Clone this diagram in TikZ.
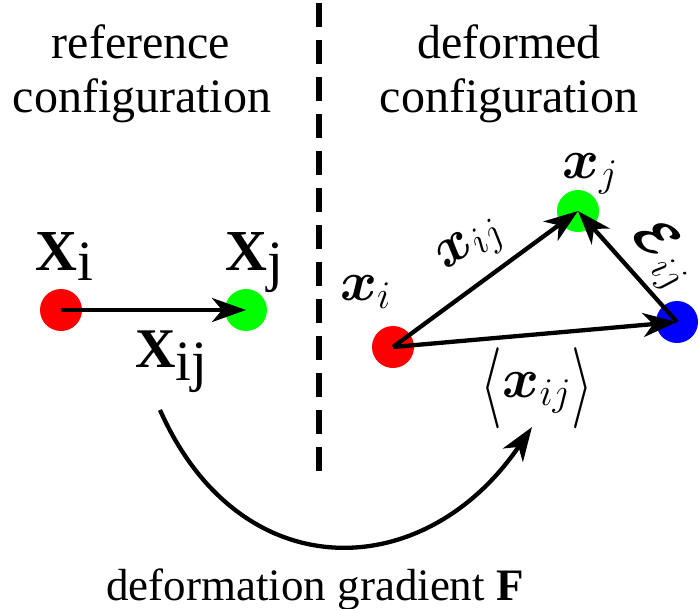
\RequirePackage{fix-cm}
\documentclass[tikz,border=0pt]{standalone}
\usepackage{amsmath,bm,graphicx}
\usepackage[no-math]{fontspec}
\setmainfont{Liberation Serif}
\usetikzlibrary{arrows.meta}
\newcommand{\lowsub}[2]{\raisebox{#1}{\fontsize{57}{57}\selectfont\mdseries #2}}
\newcommand{\tallbr}[1]{\raisebox{-11pt}{\scalebox{1}[1.45]{$#1$}}}
\begin{document}
\begin{tikzpicture}[x=1pt,y=-1pt,
  dot/.style={circle,inner sep=0pt,minimum size=42pt},
  vec/.style={line width=4.3pt,-{Stealth[length=34pt,width=24pt,inset=10pt]}},
  txt/.style={font=\fontsize{48}{56}\selectfont,inner sep=0pt,anchor=base},
  bigX/.style={font=\fontsize{58}{64}\selectfont\bfseries,inner sep=0pt,anchor=base west},
  lab/.style={font=\fontsize{56}{66}\selectfont,inner sep=0pt}]
\useasboundingbox (0,0) rectangle (699,608);
% headings
\node[txt] (ref1) at (141,58) {reference};
\node[txt] (ref2) at (142,112) {configuration};
\node[txt] (def1) at (509,58) {deformed};
\node[txt] (def2) at (509,112) {configuration};
% divider
\coordinate (dtop) at (319,3);
\coordinate (dbot) at (319,471);
\draw[line width=6.5pt,dash pattern=on 24pt off 13pt] (dtop) -- (dbot);
% reference configuration
\node[dot,fill=red] (rL) at (61,310) {};
\node[dot,fill=green] (gL) at (246,310) {};
\draw[vec] (rL.center) -- (gL.center);
\node[bigX] (Xi) at (35,270) {X\lowsub{-10pt}{i}};
\node[bigX] (Xj) at (225,270) {X\lowsub{-10pt}{j}};
\node[bigX,font=\fontsize{56}{62}\selectfont\bfseries] (Xij) at (135,367) {X\lowsub{-13pt}{ij}};
% deformed configuration
\node[dot,fill=red] (rR) at (393,347) {};
\node[dot,fill=green] (gR) at (578,211) {};
\node[dot,fill=blue] (bR) at (677,322) {};
\draw[vec] (rR.center) -- (gR.center);
\draw[vec] (bR.center) -- (gR.center);
\draw[vec] (rR.center) -- (bR.center);
\node[lab,anchor=base west] (xi) at (340,300) {$\bm{x}_i$};
\node[lab,anchor=base west] (xj) at (562,178) {$\bm{x}_j$};
\node[lab,rotate=36] (xij) at (472,247) {$\bm{x}_{ij}$};
\node[lab,rotate=-48,font=\fontsize{55}{66}\selectfont] (eij) at (662,255) {$\bm{\mathcal{E}}_{ij}$};
\node[lab,anchor=base] (mxij) at (537,397) {\tallbr{\langle}$\bm{x}_{ij}$\tallbr{\rangle}};
% deformation gradient
\coordinate (cs) at (160,410);
\coordinate (ce) at (532,427);
\draw[vec] (cs) .. controls (240,590) and (425,585) .. (ce);
\node[txt,font=\fontsize{45}{54}\selectfont] (F) at (315,600) {deformation gradient \textbf{F}};
\end{tikzpicture}
\end{document}
